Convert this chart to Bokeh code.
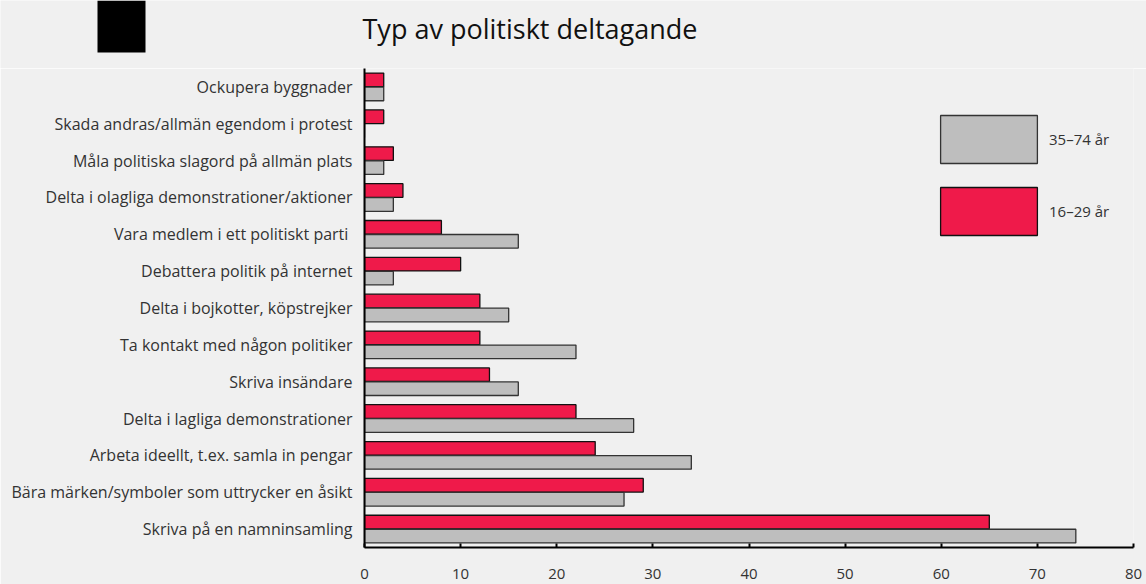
from bokeh.plotting import figure
from bokeh.models import (FactorRange, Range1d, ColumnDataSource, Legend, LegendItem,
                          FixedTicker)
from bokeh.core.properties import value
from bokeh.transform import dodge
from bokeh.embed import file_html
from bokeh.resources import INLINE

categories = [
    "Ockupera byggnader",
    "Skada andras/allmän egendom i protest",
    "Måla politiska slagord på allmän plats",
    "Delta i olagliga demonstrationer/aktioner",
    "Vara medlem i ett  politiskt parti",
    "Debattera politik på internet",
    "Delta i bojkotter, köpstrejker",
    "Ta kontakt med någon politiker",
    "Skriva insändare",
    "Delta i lagliga demonstrationer",
    "Arbeta ideellt, t.ex. samla in pengar",
    "Bära märken/symboler som uttrycker en åsikt",
    "Skriva på en namninsamling",
]
young = [2, 2, 3, 4, 8, 10, 12, 12, 13, 22, 24, 29, 65]   # 16–29 år
old = [2, 0, 2, 3, 16, 3, 15, 22, 16, 28, 34, 27, 74]     # 35–74 år
x_ticks = [0, 10, 20, 30, 40, 50, 60, 70, 80]
title_text = "Typ av politiskt deltagande"
label_young = "16–29 år"
label_old = "35–74 år"

FONT = "Open Sans"
RED = "#ef1a4a"
GRAY = "#bebebe"
BG = "#f0f0f0"
TXT = "#333333"

W, H = 1146, 584
HEAD = 68
BL, BR, BB = 364, 13, 37

# ---- header strip (title + black marker), separate root ----
head = figure(width=W, height=HEAD, x_range=Range1d(0, W), y_range=Range1d(HEAD, 0),
              output_backend="svg", toolbar_location=None,
              min_border=0, x_axis_type=None, y_axis_type=None)
head.background_fill_color = BG
head.border_fill_color = BG
head.outline_line_color = None
head.grid.visible = False
head.quad(left=[97], right=[145], top=[0], bottom=[52], fill_color="black", line_color=None)
head.text(x=[362], y=[28], text=[title_text], text_font=value(FONT), text_font_size="27px",
          text_color="#111111", text_baseline="alphabetic", text_align="left")

# ---- main chart ----
p = figure(width=W, height=H - HEAD,
           y_range=FactorRange(factors=list(reversed(categories)), range_padding=0),
           x_range=Range1d(0, 80),
           output_backend="svg", toolbar_location=None,
           min_border_left=BL, min_border_right=BR,
           min_border_top=0, min_border_bottom=BB)

src = ColumnDataSource(dict(cat=categories, young=young, old=old))
r_red = p.hbar(y=dodge("cat", 0.19, range=p.y_range), left=0, right="young", height=0.37,
               fill_color=RED, line_color="#111111", line_width=1.3, source=src)
r_gray = p.hbar(y=dodge("cat", -0.19, range=p.y_range), left=0, right="old", height=0.37,
                fill_color=GRAY, line_color="#333333", line_width=1.3, source=src)

p.background_fill_color = BG
p.border_fill_color = BG
p.outline_line_color = None
p.xgrid.visible = False
p.ygrid.visible = False

xa = p.xaxis[0]
xa.ticker = FixedTicker(ticks=x_ticks)
xa.axis_line_width = 2
xa.axis_line_color = "black"
xa.major_tick_in = 4
xa.major_tick_out = 0
xa.major_tick_line_width = 2
xa.minor_tick_line_color = None
xa.major_label_standoff = 21
xa.major_label_text_font = FONT
xa.major_label_text_font_size = "15px"
xa.major_label_text_color = TXT

ya = p.yaxis[0]
ya.axis_line_width = 2
ya.axis_line_color = "black"
ya.major_tick_in = 0
ya.major_tick_out = 0
ya.major_tick_line_color = None
ya.minor_tick_line_color = None
ya.major_label_standoff = 12
ya.major_label_text_font = FONT
ya.major_label_text_font_size = "16px"
ya.major_label_text_color = TXT

legend = Legend(items=[LegendItem(label=label_old, renderers=[r_gray]),
                       LegendItem(label=label_young, renderers=[r_red])],
                location=(564, 306), glyph_width=121, glyph_height=60, spacing=12,
                padding=0, margin=0, label_standoff=0, border_line_color=None,
                background_fill_alpha=0, label_text_font=FONT,
                label_text_font_size="15px", label_text_color=TXT)
p.add_layout(legend)

open("out.html", "w").write(file_html([head, p], INLINE))
